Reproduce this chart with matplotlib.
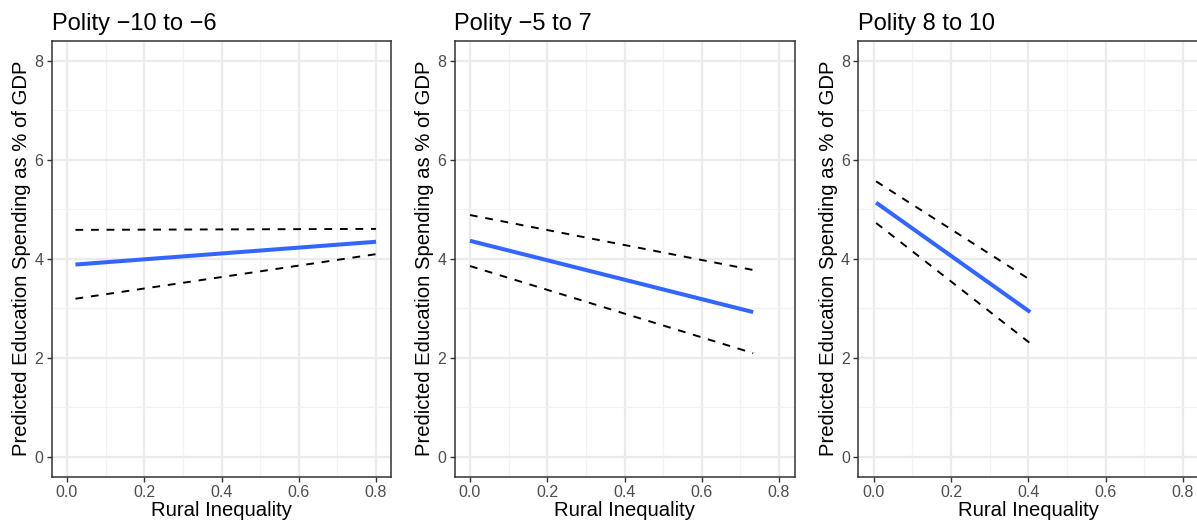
import matplotlib
matplotlib.use("Agg")
import matplotlib.pyplot as plt
from matplotlib.ticker import MultipleLocator

plt.rcParams['font.family'] = ['Liberation Sans', 'DejaVu Sans']

titles = ["Polity \u221210 to \u22126", "Polity \u22125 to 7", "Polity 8 to 10"]
x_vals = [[0.022, 0.80], [0.0, 0.733], [0.006, 0.405]]
fit = [[3.88, 4.34], [4.36, 2.92], [5.13, 2.92]]
upper = [[4.58, 4.60], [4.88, 3.77], [5.56, 3.57]]
lower = [[3.19, 4.09], [3.85, 2.09], [4.72, 2.29]]
x_ticks = [0.0, 0.2, 0.4, 0.6, 0.8]
y_ticks = [0, 2, 4, 6, 8]
xlabel = "Rural Inequality"
ylabel = "Predicted Education Spending as % of GDP"

W, H = 1197, 527
fig = plt.figure(figsize=(W / 100, H / 100), dpi=100)

lefts = [51.5, 454.5, 858.3]
pw = 340.0
top_px, bot_px = 40.7, 476.5

for i in range(3):
    ax = fig.add_axes([lefts[i] / W, 1 - bot_px / H, pw / W, (bot_px - top_px) / H])
    ax.set_xlim(-0.04, 0.84)
    ax.set_ylim(-0.4, 8.4)
    ax.set_xticks(x_ticks)
    ax.set_xticklabels([f"{v:.1f}" for v in x_ticks])
    ax.set_yticks(y_ticks)
    ax.set_yticklabels([str(v) for v in y_ticks])
    ax.xaxis.set_minor_locator(MultipleLocator(0.1))
    ax.yaxis.set_minor_locator(MultipleLocator(1))
    ax.grid(which='major', color='#EBEBEB', linewidth=1.6)
    ax.grid(which='minor', color='#F2F2F2', linewidth=0.9)
    ax.set_axisbelow(True)
    ax.tick_params(which='minor', length=0)
    ax.tick_params(which='major', length=3.5, width=1.0, color='#333333',
                   labelcolor='#4D4D4D', labelsize=11.5, pad=2.5)
    for s in ax.spines.values():
        s.set_color('#333333')
        s.set_linewidth(1.1)

    ax.plot(x_vals[i], upper[i], color='black', linewidth=1.4, linestyle=(0, (4, 4)))
    ax.plot(x_vals[i], lower[i], color='black', linewidth=1.4, linestyle=(0, (4, 4)))
    ax.plot(x_vals[i], fit[i], color='#3366FF', linewidth=2.9, solid_capstyle='butt')

    ax.set_xlabel(xlabel, fontsize=14.6, labelpad=1)
    ax.set_ylabel(ylabel, fontsize=14.6, labelpad=2)
    ax.set_title(titles[i], loc='left', fontsize=17, pad=8)

fig.savefig("out.png", dpi=100)
